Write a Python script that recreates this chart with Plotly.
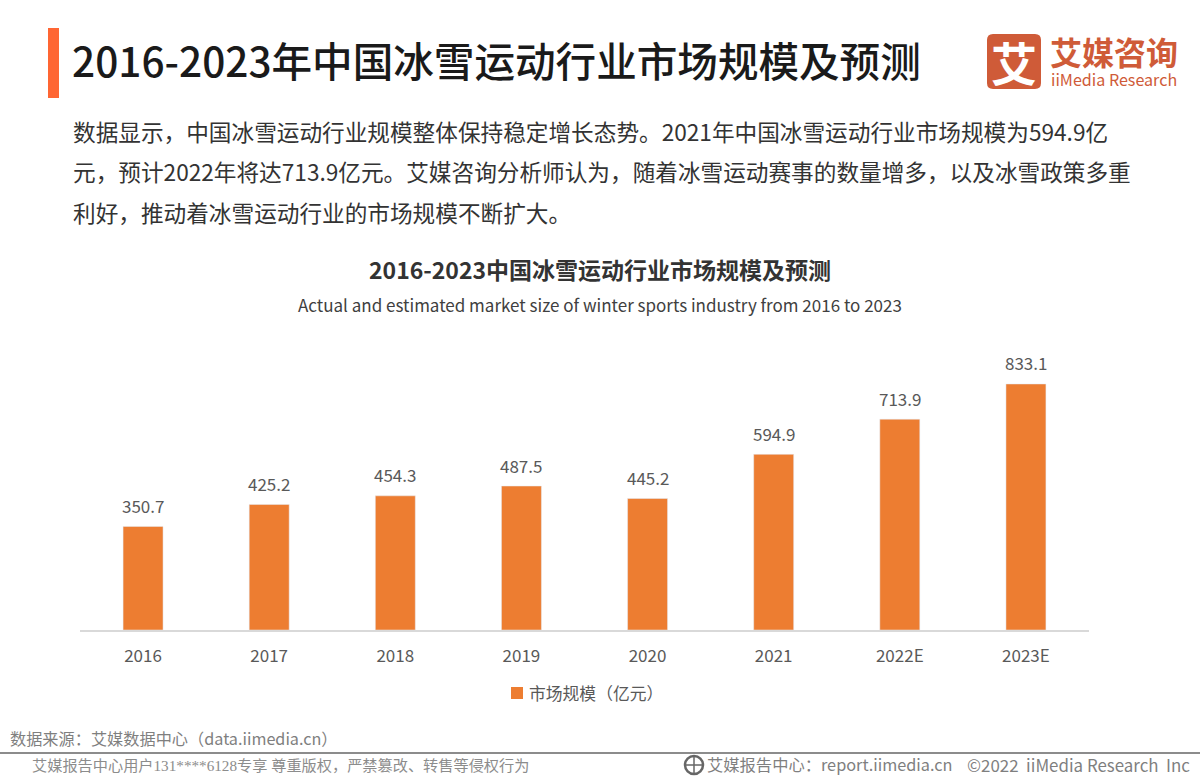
# 2016-2023 winter sports market size, iiMedia report page
import plotly.graph_objects as go

years = ['2016', '2017', '2018', '2019', '2020', '2021', '2022E', '2023E']
market_size = [350.7, 425.2, 454.3, 487.5, 445.2, 594.9, 713.9, 833.1]
series_name = '市场规模（亿元）'

page_title = '2016-2023年中国冰雪运动行业市场规模及预测'
intro_lines = [
    '数据显示，中国冰雪运动行业规模整体保持稳定增长态势。2021年中国冰雪运动行业市场规模为594.9亿',
    '元，预计2022年将达713.9亿元。艾媒咨询分析师认为，随着冰雪运动赛事的数量增多，以及冰雪政策多重',
    '利好，推动着冰雪运动行业的市场规模不断扩大。',
]
chart_title = '2016-2023中国冰雪运动行业市场规模及预测'
chart_subtitle = 'Actual and estimated market size of winter sports industry from 2016 to 2023'

W, H = 1200, 779
CJK = 'Noto Sans CJK SC'
BAR = '#ED7D31'
LOGO = '#CF5B38'


def px(x):
    return x / W


def py(y):
    return 1 - y / H


def label(x, y, text, size, color='#404040', anchor='left', family=CJK):
    # place text by pixel position, y is the vertical middle
    fig.add_annotation(x=px(x), y=py(y), xref='paper', yref='paper', text=text,
                       showarrow=False, xanchor=anchor, yanchor='middle',
                       font=dict(family=family, size=size, color=color))


def box(x0, y0, x1, y1, color):
    fig.add_shape(type='rect', xref='paper', yref='paper', x0=px(x0), x1=px(x1),
                  y0=py(y0), y1=py(y1), fillcolor=color, line_width=0)


fig = go.Figure()

fig.add_trace(go.Bar(x=years, y=market_size, name=series_name, marker_color=BAR))

# value labels sit a bit higher than textposition outside allows
# x is the category index, a string like '2016' would be read as position 2016
for i, value in enumerate(market_size):
    fig.add_annotation(x=i, y=value, xref='x', yref='y', text='%.1f' % value, showarrow=False,
                       yshift=21, yanchor='middle', font=dict(family=CJK, size=17, color='#595959'))

# header
box(48, 28, 59, 98, '#FF6633')
label(70, 60, page_title, 40.6, '#1A1A1A', family='Noto Sans CJK SC Medium, Noto Sans CJK SC')
for i, line in enumerate(intro_lines):
    label(71, 132 + i * 40, line, 22.65, '#333333')
label(600, 269, '<b>' + chart_title + '</b>', 23, '#333333', 'center')
label(599.5, 304, chart_subtitle, 17, '#404040', 'center')

# logo
fig.add_shape(type='path', xref='paper', yref='paper', line_width=0, fillcolor=LOGO,
              path='M %f %f L %f %f Q %f %f %f %f L %f %f Q %f %f %f %f L %f %f Q %f %f %f %f L %f %f Q %f %f %f %f Z' % (
                  px(993), py(34), px(1035), py(34), px(1041), py(34), px(1041), py(40),
                  px(1041), py(83), px(1041), py(89), px(1035), py(89),
                  px(993), py(89), px(987), py(89), px(987), py(83),
                  px(987), py(40), px(987), py(34), px(993), py(34)))
label(1014, 61, '<b>艾</b>', 46, 'white', 'center')
label(1048, 51, '<b>艾媒咨询</b>', 32, LOGO)
label(1049, 79, 'iiMedia Research', 16.1, LOGO)

# legend, drawn by hand because the built-in one keeps a wider gap
box(511, 687, 523, 699, BAR)
label(527, 693, series_name, 16.8, '#595959')

# footer
label(8, 738, '数据来源：艾媒数据中心（data.iimedia.cn）', 16.2, '#7F7F7F')
box(0, 752, W, 754, '#8C8C8C')
label(30, 765, '艾媒报告中心用户131****6128专享 尊重版权，严禁篡改、转售等侵权行为', 15.2, '#8C8C8C',
      family='Liberation Serif, Noto Sans CJK SC')
fig.add_shape(type='circle', xref='paper', yref='paper', x0=px(685), x1=px(703), y0=py(756), y1=py(774),
              line=dict(color='#666666', width=2.5))
fig.add_shape(type='line', xref='paper', yref='paper', x0=px(685), x1=px(703), y0=py(765), y1=py(765),
              line=dict(color='#666666', width=1.5))
fig.add_shape(type='line', xref='paper', yref='paper', x0=px(694), x1=px(694), y0=py(756), y1=py(774),
              line=dict(color='#666666', width=1.5))
label(705, 764, '艾媒报告中心：report.iimedia.cn', 16.3, '#7F7F7F')
label(965, 764, '©2022  iiMedia Research  Inc', 16.9, '#7F7F7F')

fig.update_layout(
    width=W, height=H, autosize=False,
    margin=dict(l=0, r=0, t=0, b=0),
    paper_bgcolor='white', plot_bgcolor='white',
    bargap=0.683,
    showlegend=False,
)
fig.update_xaxes(type='category', domain=[px(80), px(1089)], showline=True, linecolor='#D9D9D9', linewidth=1.5,
                 ticks='', tickfont=dict(family=CJK, size=17, color='#595959'), ticklabelstandoff=10)
fig.update_yaxes(domain=[py(630), py(340)], range=[0, 982], visible=False, showgrid=False)

# page body has a default 8px margin that would shift the whole picture
fig.write_html("out.html", config=dict(displayModeBar=False),
               post_script="document.body.style.margin='0';")
